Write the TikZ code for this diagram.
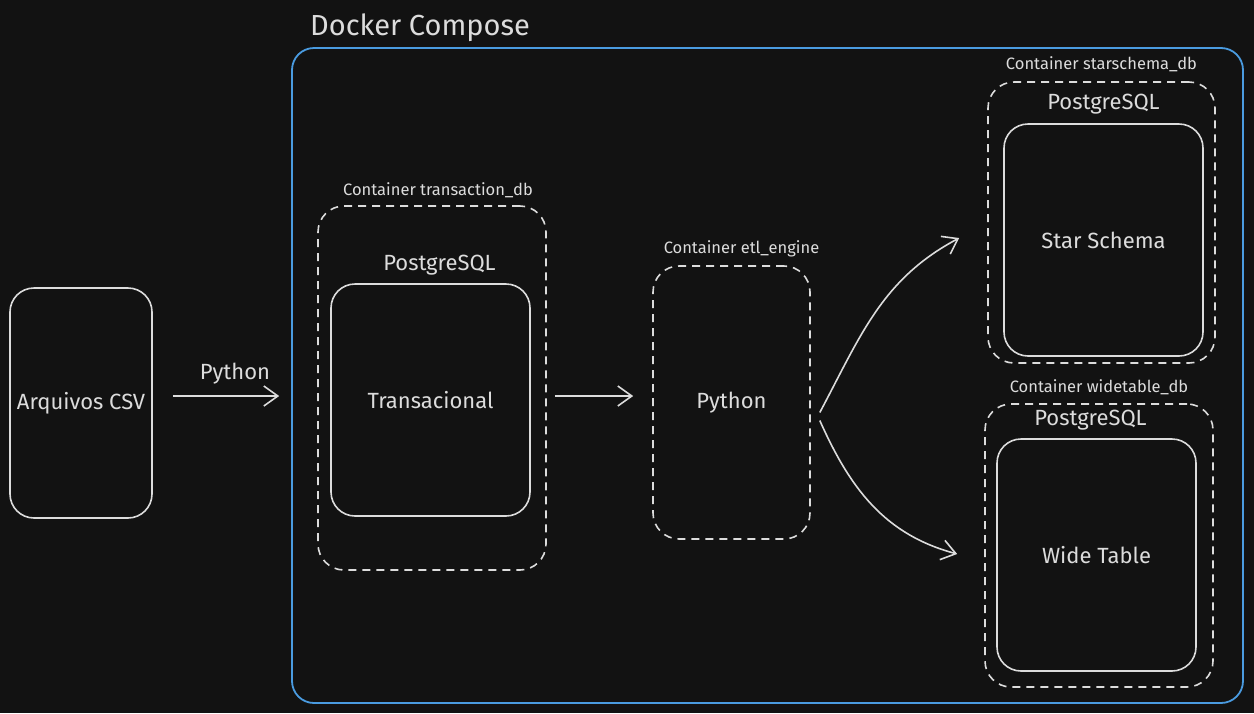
\documentclass[tikz,border=0pt]{standalone}
\usepackage{fontspec}
\setmainfont{Fira Sans}
\usetikzlibrary{positioning,arrows.meta}
\definecolor{bgdark}{HTML}{121212}
\definecolor{inkgray}{HTML}{DCDCDC}
\definecolor{composeblue}{HTML}{4A9BE0}

\begin{document}
\begin{tikzpicture}[
      x=1pt, y=-1pt,
      box/.style={rectangle, draw=inkgray, line width=1.6pt, rounded corners=24pt, text=inkgray, font=\fontsize{22}{25}\selectfont},
      cont/.style={rectangle, draw=inkgray, line width=1.6pt, dash pattern=on 8pt off 6pt, rounded corners=26pt},
      lbl/.style={text=inkgray, font=\fontsize{16.5}{19}\selectfont, inner sep=1pt},
      pg/.style={text=inkgray, font=\fontsize{22}{25}\selectfont, inner sep=1pt},
      line/.style={draw=inkgray, line width=1.6pt, -{Straight Barb[length=14pt, width=20pt]}}
  ]
      % background and frame
      \fill[bgdark] (0,0) rectangle (1254,713);
      \useasboundingbox (0,0) rectangle (1254,713);
      
      % Nodes - outer source and compose frame
      \node (csv) [box, minimum width=142pt, minimum height=230pt] at (81,403) {Arquivos CSV};
      \node (compose) [rectangle, draw=composeblue, line width=1.8pt, rounded corners=22pt, minimum width=951pt, minimum height=655pt] at (767.5,375.5) {};
      \node (composeLbl) [text=inkgray, font=\fontsize{29}{32}\selectfont, anchor=west, inner sep=0pt] at (310,28) {Docker Compose};
      
      % transaction_db
      \node (transCt) [cont, minimum width=228pt, minimum height=364pt] at (432,388) {};
      \node (transCtLbl) [lbl, above=6pt of transCt, xshift=6pt] {Container transaction\_db};
      \node (trans) [box, minimum width=199pt, minimum height=232pt] at (430.5,400) {Transacional};
      \node (transPg) [pg, above=7pt of trans, xshift=9pt] {PostgreSQL};
      
      % etl_engine
      \node (etl) [cont, text=inkgray, font=\fontsize{22}{25}\selectfont, minimum width=157pt, minimum height=273pt] at (731.5,402.5) {Python};
      \node (etlLbl) [lbl, above=7pt of etl, xshift=10pt] {Container etl\_engine};
      
      % starschema_db
      \node (starCt) [cont, minimum width=227pt, minimum height=281pt] at (1101.5,222.5) {};
      \node (starCtLbl) [lbl, above=8pt of starCt] {Container starschema\_db};
      \node (star) [box, minimum width=199pt, minimum height=232pt] at (1103.5,240) {Star Schema};
      \node (starPg) [pg, above=8pt of star] {PostgreSQL};
      
      % widetable_db
      \node (wideCt) [cont, minimum width=228pt, minimum height=283pt] at (1099,545.5) {};
      \node (wideCtLbl) [lbl, above=7pt of wideCt] {Container widetable\_db};
      \node (wide) [box, minimum width=199pt, minimum height=232pt] at (1096.5,555) {Wide Table};
      \node (widePg) [pg, above=7pt of wide, xshift=-6pt] {PostgreSQL};
  
      % Connections
      \path [line, shorten <=20pt, shorten >=38pt] ([yshift=7pt]csv.east) -- node[pg, above=10pt] {Python} ([yshift=-8pt]transCt.west);
      \path [line, shorten <=8pt, shorten >=19pt] ([yshift=-8pt]transCt.east) -- ([yshift=6.5pt]etl.west);
      \path [line] ([shift={(9pt,-10pt)}]etl.east) to[out=62, in=208] ([shift={(-28pt,-15.5pt)}]starCt.west);
      \path [line] ([shift={(9pt,-18pt)}]etl.east) to[out=-66, in=165] ([shift={(-27pt,-8.5pt)}]wideCt.west);
  \end{tikzpicture}
\end{document}
